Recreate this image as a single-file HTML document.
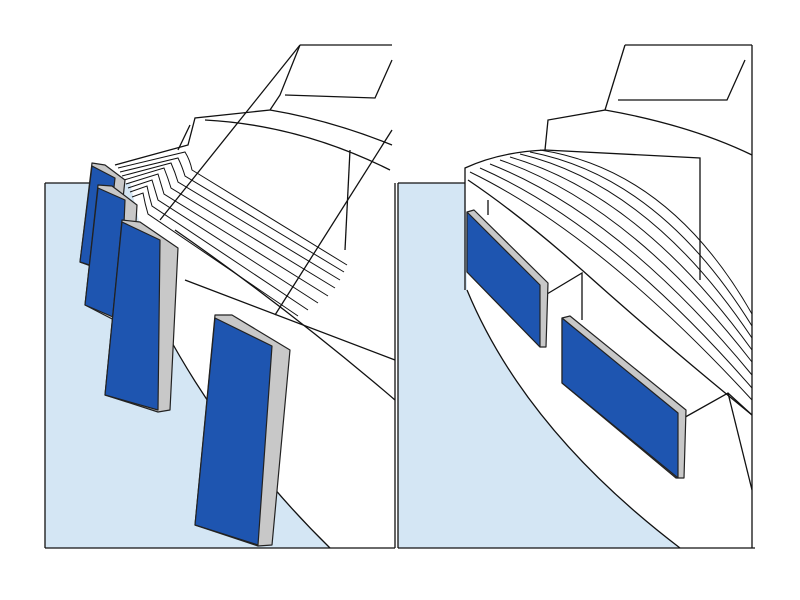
<!DOCTYPE html>
<html><head><style>html,body{margin:0;padding:0;background:#fff}svg{display:block}</style></head>
<body>
<svg width="800" height="600" viewBox="0 0 800 600" xmlns="http://www.w3.org/2000/svg">
<rect width="800" height="600" fill="#fff"/>
<!-- LEFT PANEL -->
<rect x="45" y="183" width="290" height="365" fill="#d4e6f4"/>
<path d="M165,330 Q230,450 330,548 L395,548 L395,183 L130,183 Z" fill="#fff"/>
<g fill="none" stroke="#111" stroke-width="1.3">
<line x1="45" y1="183" x2="45" y2="548"/>
<line x1="45" y1="548" x2="395" y2="548"/>
<line x1="45" y1="183" x2="90" y2="183"/>
<line x1="395" y1="183" x2="395" y2="548"/>
<path d="M165,330 Q230,450 330,548"/>
<path d="M300,45 L392,45 M300,45 L280,95 L270,110 L195,118 L188,145 L115,165"/>
<path d="M285,95 L375,98 L392,60"/>
<path d="M190,125 L178,150"/>
<path d="M270,110 Q330,120 392,145"/>
<path d="M205,120 Q300,125 390,170"/>
<path d="M350,150 L345,250"/>
<path d="M392,130 L275,315"/>
<path d="M300,45 L160,220"/>
<g stroke-width="1">
<path d="M118,168 L185,152 Q190,160 192,170 L347,265"/>
<path d="M120,172 L178,158 Q182,166 185,176 L344,272"/>
<path d="M122,176 L171,163 Q175,172 178,182 L340,280"/>
<path d="M124,180 L164,168 Q168,178 171,188 L335,288"/>
<path d="M126,184 L158,174 Q161,184 164,194 L328,296"/>
<path d="M128,188 L152,180 Q155,190 158,200 L318,303"/>
<path d="M130,192 L147,186 Q149,196 152,206 L308,310"/>
<path d="M132,197 L143,193 Q145,204 148,214 L298,316"/>
</g>
<path d="M175,230 Q290,310 395,400"/>
<path d="M185,280 Q290,320 395,360"/>
</g>
<g stroke="#222" stroke-width="1.2" stroke-linejoin="round">
<path d="M92,163 L105,165 L125,180 L115,272 L102,270 L80,262 Z" fill="#c8c8c8"/>
<path d="M92,166 L115,178 L105,270 L80,262 Z" fill="#1e55b0"/>
<path d="M98,185 L112,186 L137,205 L130,322 L118,322 L85,305 Z" fill="#c8c8c8"/>
<path d="M98,188 L125,200 L120,320 L85,305 Z" fill="#1e55b0"/>
<path d="M122,220 L140,222 L178,248 L170,410 L158,412 L105,395 Z" fill="#c8c8c8"/>
<path d="M122,222 L160,240 L158,410 L105,395 Z" fill="#1e55b0"/>
<path d="M215,315 L232,315 L290,350 L272,545 L258,546 L195,525 Z" fill="#c8c8c8"/>
<path d="M215,318 L272,346 L258,545 L195,525 Z" fill="#1e55b0"/>
</g>
<!-- RIGHT PANEL -->
<rect x="398" y="183" width="290" height="365" fill="#d4e6f4"/>
<path d="M467,290 Q525,430 680,548 L755,548 L755,160 L465,160 Z" fill="#fff"/>
<g fill="none" stroke="#111" stroke-width="1.3">
<line x1="398" y1="183" x2="398" y2="548"/>
<line x1="398" y1="183" x2="465" y2="183"/>
<line x1="398" y1="548" x2="755" y2="548"/>
<line x1="752" y1="45" x2="752" y2="548"/>
<path d="M467,290 Q525,430 680,548"/>
<line x1="625" y1="45" x2="752" y2="45"/>
<path d="M625,45 L605,110 L548,120 L545,150 Q500,152 465,168 L465,290"/>
<path d="M618,100 L727,100 L745,60"/>
<path d="M605,110 Q690,125 752,155"/>
<path d="M545,150 L700,158 L700,280"/>
<path d="M468,180 Q520,215 582,270 Q660,340 752,415"/>
<g stroke-width="1">
<path d="M470,172 Q600,235 752,400"/>
<path d="M480,168 Q610,225 752,388"/>
<path d="M490,164 Q620,215 752,375"/>
<path d="M500,160 Q630,205 752,362"/>
<path d="M510,157 Q640,195 752,350"/>
<path d="M520,154 Q650,185 752,338"/>
<path d="M530,152 Q660,177 752,326"/>
<path d="M540,150 Q670,170 752,314"/>
</g>
<path d="M488,200 L488,215"/>
<path d="M542,297 L582,273 L582,320"/>
<path d="M680,420 L728,393 L752,415"/>
<path d="M728,393 L752,490"/>
</g>
<g stroke="#222" stroke-width="1.2" stroke-linejoin="round">
<path d="M467,212 L474,210 L548,283 L546,347 L540,347 L467,272 Z" fill="#c8c8c8"/>
<path d="M467,212 L540,285 L540,347 L467,272 Z" fill="#1e55b0"/>
<path d="M562,318 L570,316 L686,410 L684,478 L676,478 L562,383 Z" fill="#c8c8c8"/>
<path d="M562,318 L678,413 L678,478 L562,383 Z" fill="#1e55b0"/>
</g>
</svg>
</body></html>
